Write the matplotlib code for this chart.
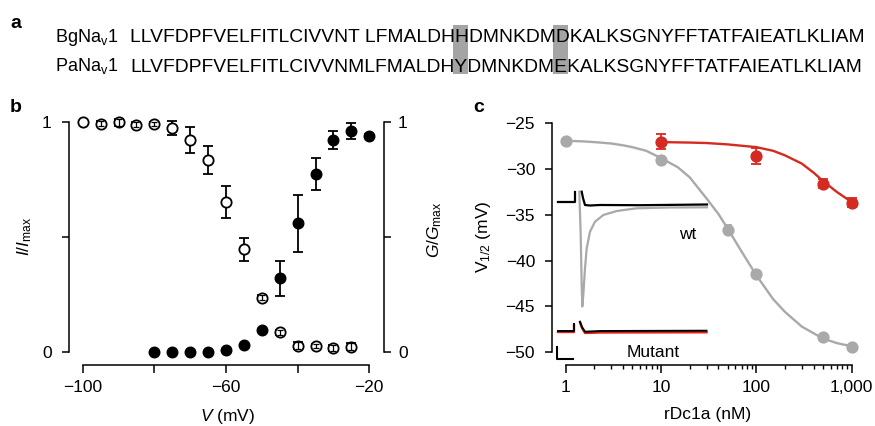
import matplotlib
matplotlib.use('Agg')
import matplotlib.pyplot as plt
from matplotlib.patches import Rectangle
from matplotlib.ticker import FixedLocator, NullFormatter

plt.rcParams['font.family'] = 'Liberation Sans'
plt.rcParams['mathtext.fontset'] = 'custom'
plt.rcParams['mathtext.rm'] = 'Liberation Sans'
plt.rcParams['mathtext.it'] = 'Liberation Sans:italic'
plt.rcParams['mathtext.bf'] = 'Liberation Sans:bold'
plt.rcParams['axes.unicode_minus'] = True

# ---- panel a: sequence alignment
seq_names = [r'BgNa$_\mathrm{v}$1', r'PaNa$_\mathrm{v}$1']
seq_rows = ['LLVFDPFVELFITLCIVVNT LFMALDHHDMNKDMDKALKSGNYFFTATFAIEATLKLIAM',
            'LLVFDPFVELFITLCIVVNMLFMALDHYDMNKDMEKALKSGNYFFTATFAIEATLKLIAM']
highlight_idx = [27, 34]   # residue index in PaNav1 row

# ---- panel b: inactivation (open) / activation (filled)
v_inact = [-100, -95, -90, -85, -80, -75, -70, -65, -60, -55, -50, -45, -40, -35, -30, -25]
i_inact = [1.0, 0.994, 1.0, 0.99, 0.993, 0.977, 0.923, 0.836, 0.655, 0.449, 0.238, 0.087,
           0.029, 0.028, 0.02, 0.025]
i_err = [0, 0.012, 0.014, 0.012, 0.008, 0.03, 0.057, 0.062, 0.07, 0.05, 0.012, 0.01,
         0.014, 0.008, 0.014, 0.014]

v_act = [-80, -75, -70, -65, -60, -55, -50, -45, -40, -35, -30, -25, -20]
g_act = [0.002, 0.002, 0.002, 0.002, 0.012, 0.032, 0.097, 0.322, 0.561, 0.775, 0.923, 0.964, 0.94]
g_err = [0, 0, 0, 0, 0, 0, 0, 0.077, 0.125, 0.07, 0.04, 0.035, 0.01]

# ---- panel c: V1/2 vs rDc1a concentration
conc_wt = [1, 10, 50, 100, 500, 1000]
v_wt = [-26.9, -29.0, -36.6, -41.45, -48.3, -49.4]
err_wt = [0.15, 0.2, 0.5, 0.3, 0.3, 0.2]
conc_mut = [10, 100, 500, 1000]
v_mut = [-27.0, -28.55, -31.6, -33.65]
err_mut = [0.85, 0.9, 0.5, 0.5]

# fitted curves
fit_wt_x = [1, 1.5, 2, 3, 4, 5, 7, 10, 15, 20, 30, 40, 50, 70, 100, 150, 200, 300, 500, 700, 1000]
fit_wt_y = [-26.9, -26.97, -27.05, -27.2, -27.4, -27.6, -28.0, -28.8, -29.8, -30.9, -33.2,
            -34.9, -36.5, -39.0, -41.6, -44.2, -45.6, -47.2, -48.5, -49.0, -49.35]
fit_mut_x = [10, 20, 30, 50, 100, 150, 200, 300, 400, 500, 700, 1000]
fit_mut_y = [-27.05, -27.1, -27.15, -27.3, -27.6, -28.0, -28.5, -29.4, -30.4, -31.3, -32.5, -33.6]

# inset current traces (time in ms, current in a.u.)
wt_black_t1 = [0.46, 3.8, 3.8]
wt_black_y1 = [0, 0, 0.98]
wt_black_t2 = [5.14, 5.4, 5.8, 6.8, 8.8, 16.8, 30.2]
wt_black_y2 = [0.98, 0.35, -0.35, -0.4, -0.35, -0.37, -0.3]
wt_grey_t = [4.66, 4.94, 5.14, 5.26, 5.46, 5.8, 6.14, 6.8, 7.8, 9.46, 12.14, 16.14, 22.8, 30.2]
wt_grey_y = [0.98, -3.35, -8.35, -10.5, -9.35, -6.68, -4.68, -3.02, -2.02, -1.35, -0.95,
             -0.68, -0.6, -0.58]
mut_t1 = [0.4, 3.6, 3.6]
mut_black_y1 = [-12.9, -12.9, -12.2]
mut_red_y1 = [-13.05, -13.05, -12.35]
mut_t2 = [4.8, 5.2, 5.8, 8.8, 30.1]
mut_black_y2 = [-12.02, -12.55, -13.02, -12.95, -12.92]
mut_red_y2 = [-12.1, -12.65, -13.15, -13.1, -13.08]

W, H = 875, 426
def fx(px):
    return px / W
def fy(py):
    return 1 - py / H

grey = '#a9a9a9'
red = '#d42a22'
fs = 12.5
minus = '\u2212'

fig = plt.figure(figsize=(W / 100, H / 100), dpi=100)

# ---------------- panel a ----------------
fig.text(fx(10), fy(28), 'a', fontsize=14, fontweight='bold', va='baseline')
seq_fs = 13
row_base = [42, 71.5]
seq_texts = []
for name, row, yb in zip(seq_names, seq_rows, row_base):
    fig.text(fx(55), fy(yb), name, fontsize=seq_fs, va='baseline')
    seq_texts.append(fig.text(fx(130), fy(yb), row, fontsize=seq_fs, va='baseline'))

fig.canvas.draw()
rend = fig.canvas.get_renderer()
w_row = seq_texts[1].get_window_extent(rend).width
seq_fs = seq_fs * 728 / w_row
for t in seq_texts:
    t.set_fontsize(seq_fs)

def text_w(s):
    tmp = fig.text(0, 0, s, fontsize=seq_fs)
    w = tmp.get_window_extent(rend).width
    tmp.remove()
    return w

for i in highlight_idx:
    cx = 130 + (text_w(seq_rows[1][:i]) + text_w(seq_rows[1][:i + 1])) / 2
    rect = Rectangle((fx(cx - 7.5), fy(73.5)), 15 / W, 48.5 / H, transform=fig.transFigure,
                     facecolor='#a4a4a4', edgecolor='none', zorder=0)
    fig.add_artist(rect)

# ---------------- panel b ----------------
axb = fig.add_axes([fx(68.5), fy(365), (384 - 68.5) / W, 250 / H])
axb.set_xlim(-103.96, -15.9)
axb.set_ylim(-0.055, 1.032)

axb.errorbar(v_inact, i_inact, yerr=i_err, fmt='o', mfc='white', mec='black', mew=1.3, ms=7.4,
             ecolor='black', elinewidth=1.3, capsize=3.4, capthick=1.3, zorder=3)
small = [k for k, e in enumerate(i_err) if 0 < e < 0.025]
axb.errorbar([v_inact[k] for k in small], [i_inact[k] for k in small],
             yerr=[i_err[k] for k in small], fmt='none', ecolor='black', elinewidth=0.9,
             capsize=2.5, capthick=0.9, zorder=4)

axg = axb.twinx()
axg.set_ylim(-0.055, 1.032)
axg.errorbar(v_act, g_act, yerr=g_err, fmt='o', color='black', ms=7.6, elinewidth=1.3,
             capsize=3.4, capthick=1.3, zorder=3)

for s in ['top', 'right']:
    axb.spines[s].set_visible(False)
for s in ['top', 'left', 'bottom']:
    axg.spines[s].set_visible(False)
axb.spines['left'].set_bounds(0, 1)
axb.spines['bottom'].set_bounds(-100, -20)
axg.spines['right'].set_bounds(0, 1)
for sp in list(axb.spines.values()) + list(axg.spines.values()):
    sp.set_linewidth(1.1)

axb.set_xticks([-100, -80, -60, -40, -20])
axb.set_xticklabels([minus + '100', '', minus + '60', '', minus + '20'])
axb.set_yticks([0, 0.5, 1])
axb.set_yticklabels(['0', '', '1'])
axg.set_yticks([0, 0.5, 1])
axg.set_yticklabels(['0', '', '1'])
axb.tick_params(axis='x', direction='out', length=5.5, width=1.1, labelsize=fs, pad=5)
axb.tick_params(axis='y', direction='out', length=5, width=1.1, labelsize=fs, pad=7)
axg.tick_params(axis='y', direction='out', length=5, width=1.1, labelsize=fs, pad=5)

fig.text(fx(10), fy(112), 'b', fontsize=14, fontweight='bold', va='baseline')
fig.text(fx(25), fy(236.5), r'$I/I_{\mathrm{max}}$', rotation=90, ha='center', va='center',
         fontsize=fs)
fig.text(fx(435), fy(230), r'$G/G_{\mathrm{max}}$', rotation=90, ha='center', va='center',
         fontsize=fs)
fig.text(fx(227), fy(416), r'$V$ (mV)', ha='center', va='center', fontsize=fs)

# ---------------- panel c ----------------
axc = fig.add_axes([fx(551.7), fy(365), (860 - 551.7) / W, 250 / H])
axc.set_xscale('log')
axc.set_xlim(0.713, 1222)
axc.set_ylim(-51.39, -24.09)

axc.plot(fit_wt_x, fit_wt_y, color=grey, lw=1.7, zorder=2)
axc.errorbar(conc_wt, v_wt, yerr=err_wt, fmt='o', color=grey, ms=7.8, elinewidth=1.3,
             capsize=3.2, capthick=1.3, zorder=3)
axc.plot(fit_mut_x, fit_mut_y, color=red, lw=1.7, zorder=2)
axc.errorbar(conc_mut, v_mut, yerr=err_mut, fmt='o', color=red, ms=7.8, elinewidth=1.3,
             capsize=3.6, capthick=1.3, zorder=3)

for s in ['top', 'right']:
    axc.spines[s].set_visible(False)
axc.spines['left'].set_bounds(-50, -25)
axc.spines['bottom'].set_bounds(1, 1000)
for sp in axc.spines.values():
    sp.set_linewidth(1.1)

axc.set_xticks([1, 10, 100, 1000])
axc.set_xticklabels(['1', '10', '100', '1,000'])
minor = [m * d for d in (1, 10, 100) for m in range(2, 10)]
axc.xaxis.set_minor_locator(FixedLocator(minor))
axc.xaxis.set_minor_formatter(NullFormatter())
axc.set_yticks([-25, -30, -35, -40, -45, -50])
axc.tick_params(axis='x', which='major', direction='out', length=5.5, width=1.1, labelsize=fs, pad=5)
axc.tick_params(axis='x', which='minor', direction='out', length=3.2, width=1.0)
axc.tick_params(axis='y', direction='out', length=5, width=1.1, labelsize=fs, pad=7)

fig.text(fx(473), fy(112), 'c', fontsize=14, fontweight='bold', va='baseline')
fig.text(fx(483), fy(237), r'V$_{1/2}$ (mV)', rotation=90, ha='center', va='center', fontsize=fs)
fig.text(fx(708), fy(415), 'rDc1a (nM)', ha='center', va='center', fontsize=fs)

# inset traces
axi = fig.add_axes([fx(556), fy(365), 155 / W, 180 / H])
axi.set_xlim(0, 31)
axi.set_ylim(-16.35, 1.65)
axi.axis('off')
axi.plot(wt_grey_t, wt_grey_y, color=grey, lw=1.6)
axi.plot(wt_black_t1, wt_black_y1, color='black', lw=1.6)
axi.plot(wt_black_t2, wt_black_y2, color='black', lw=1.6)
axi.plot(mut_t1, mut_red_y1, color='#e0201c', lw=1.7)
axi.plot(mut_t2, mut_red_y2, color='#e0201c', lw=1.7)
axi.plot(mut_t1, mut_black_y1, color='black', lw=1.4)
axi.plot(mut_t2, mut_black_y2, color='black', lw=1.4)
axi.plot([0.15, 0.15, 3.45], [-14.5, -15.7, -15.7], color='black', lw=1.5)

fig.text(fx(688), fy(234), 'wt', ha='center', va='center', fontsize=fs)
fig.text(fx(653.5), fy(352.5), 'Mutant', ha='center', va='center', fontsize=fs)

fig.savefig('out.png', dpi=100)
